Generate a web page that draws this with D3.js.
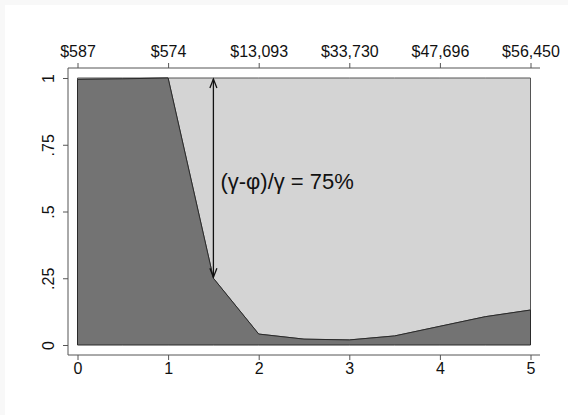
<!DOCTYPE html>
<html><head><meta charset="utf-8">
<script src="https://cdn.jsdelivr.net/npm/d3@7"></script>
<style>html,body{margin:0;padding:0;background:#f8f8f8;}svg{display:block;}</style>
</head><body>
<svg id="c" width="568" height="415"></svg>
<script>
const xs = [0, 0.5, 1, 1.5, 2, 2.5, 3, 3.5, 4, 4.5, 5];
const share = [0.995, 0.997, 1.0, 0.25, 0.041, 0.022, 0.019, 0.034, 0.07, 0.106, 0.131];
const total = [1, 1, 1, 1, 1, 1, 1, 1, 1, 1, 1];
const bottomTicks = [0, 1, 2, 3, 4, 5];
const topLabels = ["$587", "$574", "$13,093", "$33,730", "$47,696", "$56,450"];
const yTicks = [0, 0.25, 0.5, 0.75, 1];
const yLabels = ["0", ".25", ".5", ".75", "1"];
const arrowX = 1.5, arrowTop = 1, arrowBottom = 0.25;
const annotation = "(γ-φ)/γ = 75%";

const svg = d3.select("#c");
svg.append("rect").attr("x",5).attr("y",5).attr("width",563).attr("height",410).attr("fill","#fff");

const x = d3.scaleLinear().domain([0,5]).range([77.5,530.5]);
const y = d3.scaleLinear().domain([0,1]).range([345,78]);
const font = "'Liberation Sans', Arial, Helvetica, sans-serif";

const data = xs.map((v,i)=>({x:v, s:share[i], t:total[i]}));
svg.append("path").datum(data)
  .attr("d", d3.area().x(d=>x(d.x)).y0(d=>y(d.s)).y1(d=>y(d.t)))
  .attr("fill","#d4d4d4").attr("stroke","#555").attr("stroke-width",1);
svg.append("path").datum(data)
  .attr("d", d3.area().x(d=>x(d.x)).y0(y(0)).y1(d=>y(d.s)))
  .attr("fill","#737373").attr("stroke","#2a2a2a").attr("stroke-width",1);

const axCol = "#555";
const gBottom = svg.append("g").attr("transform","translate(0,355)")
  .call(d3.axisBottom(x).tickValues(bottomTicks).tickFormat(d3.format("d")).tickSizeOuter(0).tickSize(5).tickPadding(3));
const gTop = svg.append("g").attr("transform","translate(0,68)")
  .call(d3.axisTop(x).tickValues(bottomTicks).tickFormat((d,i)=>topLabels[i]).tickSizeOuter(0).tickSize(5).tickPadding(6));
const gLeft = svg.append("g").attr("transform","translate(68,0)")
  .call(d3.axisLeft(y).tickValues(yTicks).tickFormat((d,i)=>yLabels[i]).tickSizeOuter(0).tickSize(5).tickPadding(3));
[gBottom, gTop, gLeft].forEach(g=>{
  g.select(".domain").remove();
  g.selectAll(".tick line").attr("stroke",axCol);
  g.selectAll("text").attr("fill","#111").style("font-family",font).style("font-size","16px");
});
svg.append("line").attr("x1",68).attr("x2",540).attr("y1",355).attr("y2",355).attr("stroke",axCol);
svg.append("line").attr("x1",68).attr("x2",540).attr("y1",68).attr("y2",68).attr("stroke",axCol);
svg.append("line").attr("x1",68).attr("x2",68).attr("y1",68).attr("y2",355).attr("stroke",axCol);
gLeft.selectAll(".tick text")
  .attr("transform", "translate(-18,0) rotate(-90)")
  .attr("x",0).attr("dy","0").attr("text-anchor","middle").attr("dominant-baseline","middle");

const ax = x(arrowX);
svg.append("line").attr("x1",ax).attr("x2",ax).attr("y1",y(arrowTop)+1).attr("y2",y(arrowBottom)-1)
  .attr("stroke","#111").attr("stroke-width",1.3);
const head = (yy,dir)=>svg.append("path")
  .attr("d",`M${ax-3.5},${yy+dir*9} L${ax},${yy} L${ax+3.5},${yy+dir*9}`)
  .attr("fill","none").attr("stroke","#111").attr("stroke-width",1.3);
head(y(arrowTop)+1, 1);
head(y(arrowBottom)-1, -1);

svg.append("text").attr("x",x(arrowX)+7).attr("y",189)
  .style("font-family",font).style("font-size","22px").attr("fill","#111")
  .text(annotation);
</script>
</body></html>
